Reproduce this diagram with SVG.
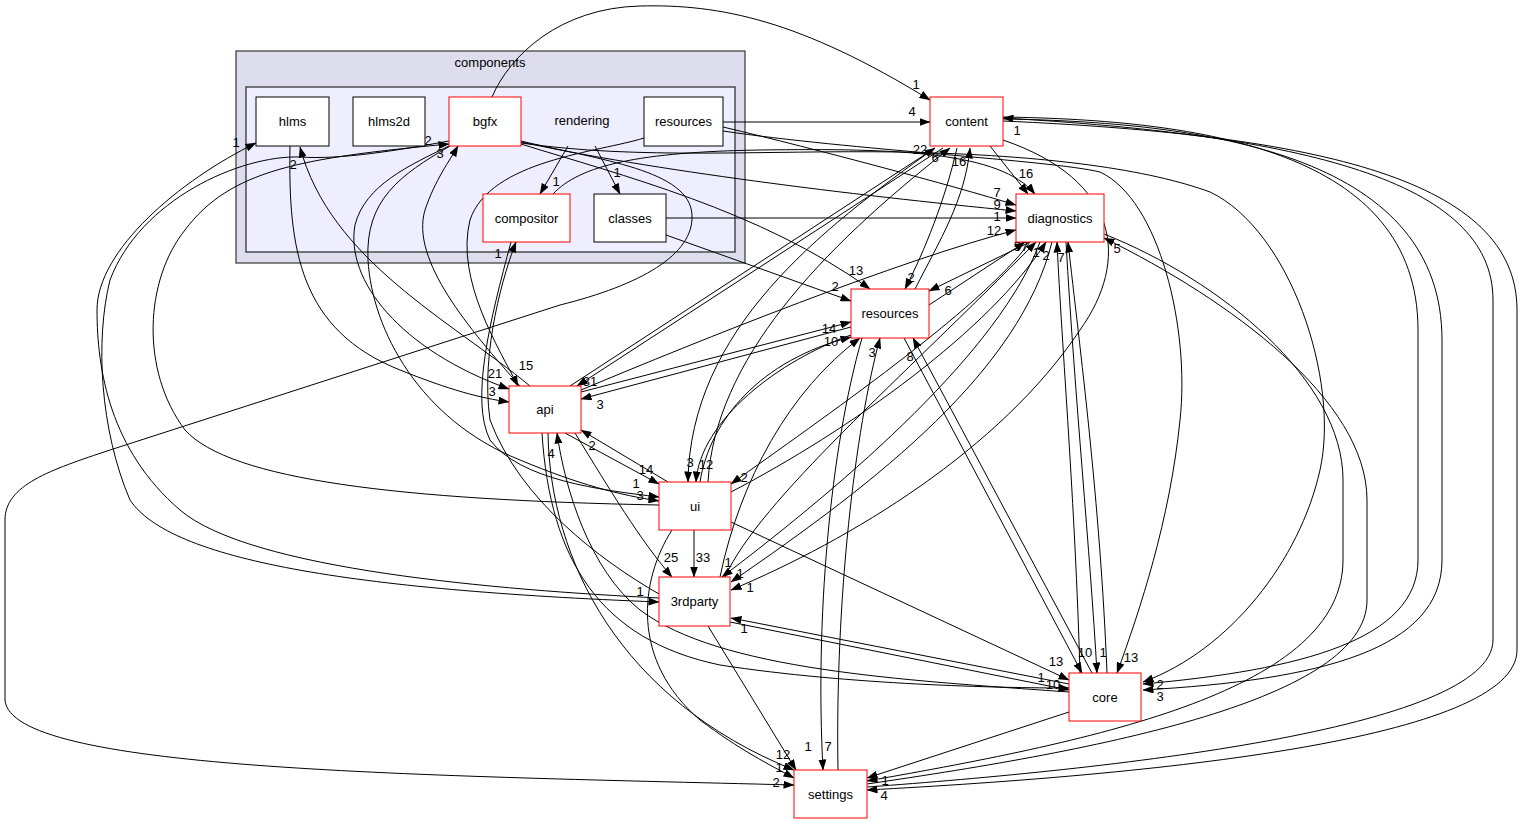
<svg xmlns="http://www.w3.org/2000/svg" width="1523" height="823" viewBox="0 0 1523 823">
<defs>
<marker id="ah" markerUnits="userSpaceOnUse" markerWidth="11" markerHeight="8" refX="10.5" refY="4" orient="auto"><path d="M0,0 L11,4 L0,8 z" fill="#000"/></marker>
<style>
text{font-family:"Liberation Sans",Arial,sans-serif;font-size:13px;fill:#000}
.nt{text-anchor:middle}
.el{text-anchor:middle}
.e path{fill:none;stroke:#000;stroke-width:1;marker-end:url(#ah)}
.nb{fill:#fff;stroke:#000;stroke-width:1}
.nr{fill:#fff;stroke:#ff0000;stroke-width:1}
</style>
</defs>
<rect width="1523" height="823" fill="#fff"/>
<g id="cluster-components">
<rect x="236" y="51" width="509" height="212" fill="#ddddee" stroke="#444" stroke-width="1.3"/>
<text class="nt" x="490" y="67">components</text>
</g>
<g id="cluster-rendering">
<rect x="246" y="87" width="489" height="165" fill="#eeeeff" stroke="#333" stroke-width="1.3"/>
<text class="nt" x="582" y="125">rendering</text>
</g>
<g id="edges" class="e">
<path d="M568,146 L540,194"/>
<path d="M595,146 L620,194"/>
<path d="M492,97 C510,55 560,8 640,6 C720,4 800,20 930,100"/>
<path d="M723,122 L930,122"/>
<path d="M723,127 C820,150 950,185 1016,205"/>
<path d="M723,131 C850,150 1050,160 1100,172 C1160,200 1190,330 1180,420 C1170,520 1140,610 1117,673"/>
<path d="M521,143 C640,160 760,150 900,152 C1050,155 1150,170 1210,192 C1290,230 1340,380 1320,470 C1300,560 1230,650 1143,682"/>
<path d="M644,138 C600,152 490,160 470,220 C455,280 500,350 518,386"/>
<path d="M521,141 C600,160 690,170 692,215 C694,255 640,285 560,305 L110,450 C50,470 5,485 5,520 L5,700 C10,770 400,775 794,785"/>
<path d="M521,142 C650,170 850,195 1016,211"/>
<path d="M666,218 L1016,218"/>
<path d="M666,235 L851,301"/>
<path d="M521,144 C620,175 760,210 870,289"/>
<path d="M553,194 C580,165 640,152 760,150 C900,148 1000,152 1035,194"/>
<path d="M290,146 C288,250 300,330 400,370 C450,390 480,398 509,402"/>
<path d="M530,386 C450,320 330,260 300,147"/>
<path d="M449,146 C410,165 365,185 355,225 C345,280 400,350 509,389"/>
<path d="M520,386 C470,330 410,260 425,210 C435,180 450,160 458,146"/>
<path d="M659,598 C500,590 250,570 180,510 C110,450 97,370 97,310 C97,250 180,180 256,143"/>
<path d="M449,141 C400,150 340,160 300,157 C240,155 140,200 110,280 C95,340 100,430 130,500 C170,560 350,590 659,602"/>
<path d="M659,505 C400,500 230,480 185,430 C140,370 145,280 185,230 C230,170 300,158 449,144"/>
<path d="M450,146 C400,175 365,200 368,260 C372,330 420,420 520,460 C580,485 620,495 659,501"/>
<path d="M511,242 C490,320 470,400 490,440 C520,480 600,490 659,497"/>
<path d="M659,594 C600,560 520,500 490,420 C480,350 505,270 516,242"/>
<path d="M570,386 L935,148"/>
<path d="M943,148 L577,386"/>
<path d="M851,327 L581,399"/>
<path d="M581,392 L851,322"/>
<path d="M700,482 C710,420 760,360 851,337"/>
<path d="M720,577 C740,480 790,390 860,338"/>
<path d="M581,390 C700,340 900,260 1016,230"/>
<path d="M565,433 L659,484"/>
<path d="M668,482 L581,430"/>
<path d="M575,433 C610,490 640,540 672,577"/>
<path d="M548,433 C550,560 620,700 794,770"/>
<path d="M1069,692 C900,680 720,670 640,610 C590,570 565,490 557,433"/>
<path d="M542,433 C550,560 600,640 720,665 C850,685 1000,688 1069,688"/>
<path d="M935,148 C820,230 690,330 688,482"/>
<path d="M708,482 C715,360 820,250 950,148"/>
<path d="M851,335 C780,360 700,420 696,482"/>
<path d="M1030,242 C980,310 820,420 731,484"/>
<path d="M731,492 C850,430 990,330 1046,242"/>
<path d="M694,530 L694,577"/>
<path d="M731,522 L1069,680"/>
<path d="M672,530 C640,580 630,660 700,720 C740,750 770,765 794,778"/>
<path d="M708,626 L796,770"/>
<path d="M730,622 L1069,690"/>
<path d="M1069,684 L731,618"/>
<path d="M1040,242 C1000,350 850,480 722,577"/>
<path d="M1052,242 C1020,370 880,480 731,582"/>
<path d="M1003,140 C1120,180 1130,260 1080,330 C1000,450 850,540 731,590"/>
<path d="M725,577 C760,500 900,380 1036,242"/>
<path d="M929,305 L1025,242"/>
<path d="M1030,242 L929,291"/>
<path d="M957,148 C945,200 925,250 905,289"/>
<path d="M915,289 C940,240 965,200 970,148"/>
<path d="M862,338 C830,450 815,620 823,770"/>
<path d="M838,770 C835,600 855,430 880,338"/>
<path d="M904,338 L1082,673"/>
<path d="M1092,673 L913,338"/>
<path d="M1080,673 C1075,500 1062,350 1057,242"/>
<path d="M1066,242 C1075,400 1090,550 1097,673"/>
<path d="M1107,673 C1100,500 1080,350 1068,242"/>
<path d="M990,146 L1028,194"/>
<path d="M1003,117 C1200,120 1418,150 1418,330 L1418,560 C1418,640 1300,670 1143,684"/>
<path d="M1003,119 C1220,122 1442,160 1442,340 L1442,560 C1442,650 1320,680 1143,690"/>
<path d="M867,787 C1100,770 1493,730 1493,640 L1493,300 C1493,180 1300,135 1003,118"/>
<path d="M1003,121 C1320,135 1517,180 1517,310 L1517,650 C1517,740 1150,775 867,790"/>
<path d="M1104,234 C1220,280 1343,380 1343,480 L1343,560 C1343,690 1100,740 867,781"/>
<path d="M867,784 C1100,750 1367,700 1367,600 L1367,500 C1367,400 1230,300 1104,238"/>
<path d="M1069,712 L867,778"/>
</g>
<g id="edge-labels">
<text class="el" x="556" y="186">1</text>
<text class="el" x="617" y="177">1</text>
<text class="el" x="916" y="89">1</text>
<text class="el" x="912" y="116">4</text>
<text class="el" x="920" y="154">22</text>
<text class="el" x="935" y="162">6</text>
<text class="el" x="959" y="166">16</text>
<text class="el" x="1026" y="178">16</text>
<text class="el" x="997" y="197">7</text>
<text class="el" x="997" y="209">9</text>
<text class="el" x="997" y="221">1</text>
<text class="el" x="994" y="235">12</text>
<text class="el" x="1021" y="251">57</text>
<text class="el" x="1036" y="257">1</text>
<text class="el" x="1046" y="260">2</text>
<text class="el" x="1061" y="262">7</text>
<text class="el" x="1117" y="253">5</text>
<text class="el" x="856" y="275">13</text>
<text class="el" x="835" y="291">2</text>
<text class="el" x="911" y="282">2</text>
<text class="el" x="948" y="295">6</text>
<text class="el" x="829" y="333">14</text>
<text class="el" x="831" y="346">10</text>
<text class="el" x="872" y="357">3</text>
<text class="el" x="910" y="361">8</text>
<text class="el" x="526" y="370">15</text>
<text class="el" x="495" y="378">21</text>
<text class="el" x="492" y="396">3</text>
<text class="el" x="590" y="386">31</text>
<text class="el" x="600" y="409">3</text>
<text class="el" x="551" y="458">4</text>
<text class="el" x="592" y="450">2</text>
<text class="el" x="646" y="474">14</text>
<text class="el" x="690" y="467">3</text>
<text class="el" x="706" y="469">12</text>
<text class="el" x="744" y="482">2</text>
<text class="el" x="636" y="488">1</text>
<text class="el" x="640" y="500">3</text>
<text class="el" x="671" y="562">25</text>
<text class="el" x="703" y="562">33</text>
<text class="el" x="728" y="567">1</text>
<text class="el" x="740" y="578">1</text>
<text class="el" x="750" y="592">1</text>
<text class="el" x="640" y="596">1</text>
<text class="el" x="744" y="633">1</text>
<text class="el" x="1056" y="666">13</text>
<text class="el" x="1085" y="657">10</text>
<text class="el" x="1103" y="657">1</text>
<text class="el" x="1131" y="662">13</text>
<text class="el" x="1041" y="682">1</text>
<text class="el" x="1053" y="689">10</text>
<text class="el" x="1160" y="689">2</text>
<text class="el" x="1160" y="701">3</text>
<text class="el" x="1017" y="135">1</text>
<text class="el" x="808" y="751">1</text>
<text class="el" x="828" y="751">7</text>
<text class="el" x="783" y="759">12</text>
<text class="el" x="779" y="772">1</text>
<text class="el" x="776" y="787">2</text>
<text class="el" x="885" y="785">1</text>
<text class="el" x="884" y="800">4</text>
<text class="el" x="236" y="147">1</text>
<text class="el" x="293" y="169">2</text>
<text class="el" x="428" y="145">2</text>
<text class="el" x="440" y="158">3</text>
<text class="el" x="498" y="258">1</text>
</g>
<g id="node-hlms"><rect class="nb" x="256" y="97" width="73" height="49"/><text class="nt" x="292.5" y="126">hlms</text></g>
<g id="node-hlms2d"><rect class="nb" x="353" y="97" width="72" height="49"/><text class="nt" x="389" y="126">hlms2d</text></g>
<g id="node-bgfx"><rect class="nr" x="449" y="97" width="72" height="49"/><text class="nt" x="485" y="126">bgfx</text></g>
<g id="node-rendering-resources"><rect class="nb" x="644" y="97" width="79" height="49"/><text class="nt" x="683.5" y="126">resources</text></g>
<g id="node-compositor"><rect class="nr" x="483" y="194" width="87" height="48"/><text class="nt" x="526.5" y="222.5">compositor</text></g>
<g id="node-classes"><rect class="nb" x="594" y="194" width="72" height="48"/><text class="nt" x="630" y="222.5">classes</text></g>
<g id="node-content"><rect class="nr" x="930" y="97" width="73" height="49"/><text class="nt" x="966.5" y="126">content</text></g>
<g id="node-diagnostics"><rect class="nr" x="1016" y="194" width="88" height="48"/><text class="nt" x="1060" y="222.5">diagnostics</text></g>
<g id="node-resources"><rect class="nr" x="851" y="289" width="78" height="49"/><text class="nt" x="890" y="318">resources</text></g>
<g id="node-api"><rect class="nr" x="509" y="386" width="72" height="47"/><text class="nt" x="545" y="414">api</text></g>
<g id="node-ui"><rect class="nr" x="659" y="482" width="72" height="48"/><text class="nt" x="695" y="510.5">ui</text></g>
<g id="node-3rdparty"><rect class="nr" x="659" y="577" width="71" height="49"/><text class="nt" x="694.5" y="606">3rdparty</text></g>
<g id="node-core"><rect class="nr" x="1069" y="673" width="72" height="48"/><text class="nt" x="1105" y="701.5">core</text></g>
<g id="node-settings"><rect class="nr" x="794" y="770" width="73" height="48"/><text class="nt" x="830.5" y="798.5">settings</text></g>
</svg>
